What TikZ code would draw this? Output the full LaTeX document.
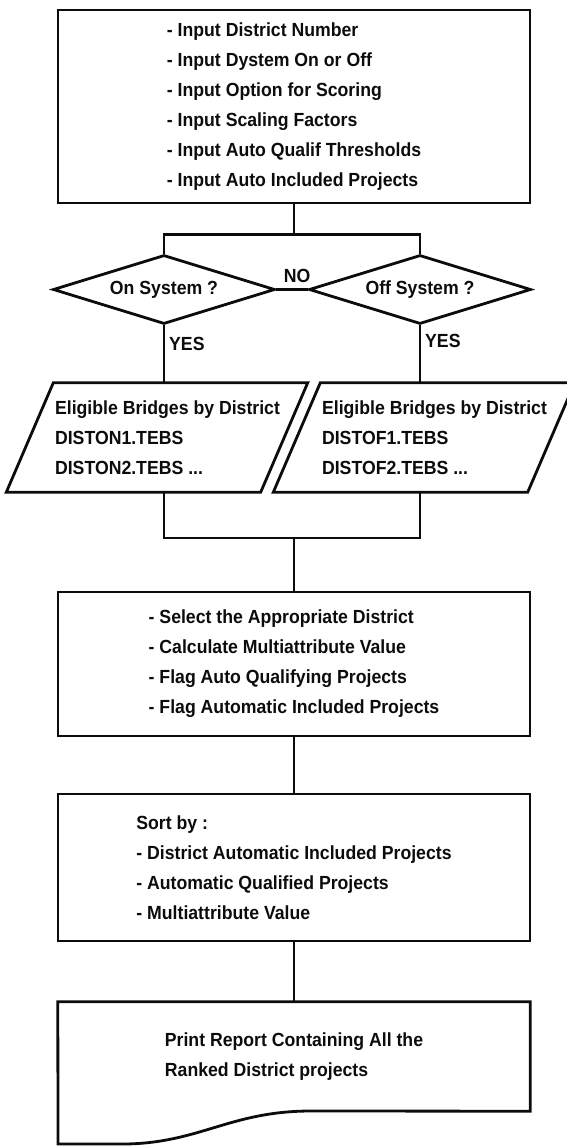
\documentclass[tikz,border=0pt]{standalone}
\usepackage{fontspec}
\setmainfont{Liberation Sans}[FakeStretch=0.93]
\usepackage{xcolor}
\usepackage{tikz}
\usetikzlibrary{positioning, shapes.geometric}
\definecolor{ink}{RGB}{12,12,12}

\begin{document}
\begin{tikzpicture}[x=1pt, y=1pt,
    txt/.style={font=\fontsize{19}{30}\selectfont\bfseries, text=ink},
    proc/.style={txt, draw=ink, line width=2.8pt, minimum width=472, minimum height=#1,
                 inner sep=0pt, align=left},
    decide/.style={txt, shape=diamond, aspect=3.2, draw=ink, line width=2.8pt,
                   minimum width=222, minimum height=69, inner sep=0pt},
    iobox/.style={minimum width=254, minimum height=109, inner sep=0pt},
    slant/.style={draw=ink, line width=2.8pt},
    flow/.style={draw=ink, line width=2.4pt},
    tag/.style={txt, inner sep=2pt}
  ]
  \useasboundingbox (0,0) rectangle (567,-1146);
  \def\xl{164} \def\xr{420} \def\xm{294}

  \node[proc=193] (inp) at (\xm,-106.5) {- Input District Number\\- Input Dystem On or Off\\- Input Option for Scoring\\- Input Scaling Factors\\- Input Auto Qualif Thresholds\\- Input Auto Included Projects};

  \node[decide] (dOn) at (\xl,-289.5) {On System ?};
  \node[decide] (dOff) at (\xr,-289.5) {Off System ?};

  % data blocks, slanted by hand
  \node[iobox] (pOn) at (157,-437.5) {};
  \draw[slant] ([xshift=-23.5]pOn.south west) -- ([xshift=-23.5]pOn.south east)
    -- ([xshift=23.5]pOn.north east) -- ([xshift=23.5]pOn.north west) -- cycle;
  \node[txt, align=left] (pOnTxt) at (167.5,-437.5) {Eligible Bridges by District\\DISTON1.TEBS\\DISTON2.TEBS ...};
  \node[iobox] (pOff) at (424,-437.5) {};
  \draw[slant] ([xshift=-23.5]pOff.south west) -- ([xshift=-23.5]pOff.south east)
    -- ([xshift=23.5]pOff.north east) -- ([xshift=23.5]pOff.north west) -- cycle;
  \node[txt, align=left] (pOffTxt) at (434.5,-437.5) {Eligible Bridges by District\\DISTOF1.TEBS\\DISTOF2.TEBS ...};

  \node[proc=144] (sel) at (\xm,-664) {- Select the Appropriate District\\- Calculate Multiattribute Value\\- Flag Auto Qualifying Projects\\- Flag Automatic Included Projects};
  \node[proc=147] (srt) at (\xm,-867.5) {Sort by :\\- District Automatic Included Projects\\- Automatic Qualified Projects\\- Multiattribute Value};

  \node[txt, minimum width=472, minimum height=109, inner sep=0pt, align=left] (rpt) at (\xm,-1056.5) {Print Report Containing All the\\Ranked District projects};
  \draw[slant] (rpt.south east) -- (rpt.north east) -- (rpt.north west)
    -- (58,-1144) -- (125,-1144) .. controls (200,-1143) and (230,-1111) .. (311,-1111) -- cycle;

  \draw[flow] (dOn.north) -- ++(0,19) coordinate (fork) -| (dOff.north);
  \draw[flow] (inp.south) -- (inp.south |- fork);
  \draw[flow] (dOn.east) -- node[tag, above=4pt, xshift=5pt] (no) {NO} (dOff.west);
  \draw[flow] (dOn.south) -- node[tag, pos=0.32, right, xshift=2pt] (yesL) {YES} (dOn.south |- pOn.north);
  \draw[flow] (dOff.south) -- node[tag, pos=0.27, right, xshift=2pt] (yesR) {YES} (dOff.south |- pOff.north);
  \draw[flow] (dOn.south |- pOn.south) -- ++(0,-46) coordinate (join) -| (dOff.south |- pOff.south);
  \draw[flow] (sel.north |- join) -- (sel.north);
  \draw[flow] (sel.south) -- (srt.north);
  \draw[flow] (srt.south) -- (rpt.north);
\end{tikzpicture}
\end{document}
